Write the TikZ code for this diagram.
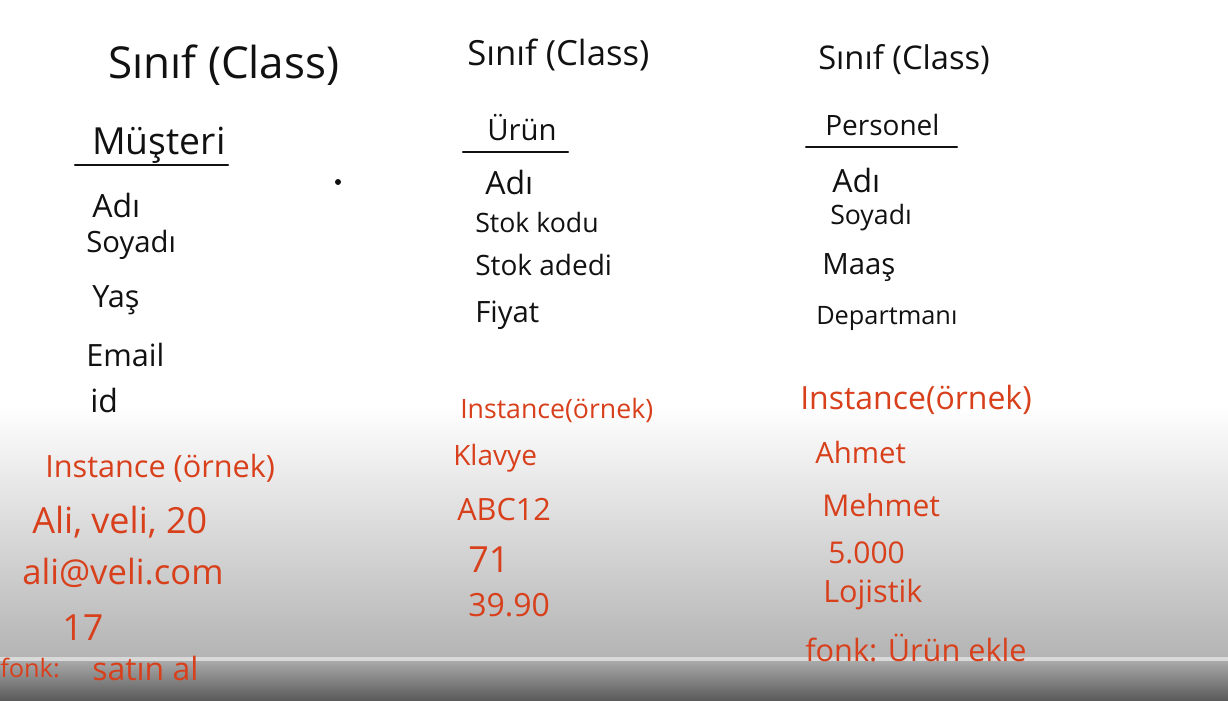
\documentclass[tikz,border=0pt]{standalone}
\usepackage{fontspec}
\setmainfont{Open Sans}
\usetikzlibrary{positioning}
\definecolor{ink}{HTML}{111111}
\definecolor{pen}{HTML}{D8401C}
\definecolor{fadegray}{HTML}{B4B4B4}
\definecolor{bartop}{HTML}{A9A9A9}
\definecolor{barbottom}{HTML}{5B5B5B}
\definecolor{barline}{HTML}{D9D9D9}
\newcommand\fsz[1]{\fontsize{#1}{#1}\selectfont}
\tikzset{
  board/.style={anchor=west, inner sep=0pt, text=ink},
  note/.style={anchor=west, inner sep=0pt, text=pen},
  rule/.style={draw=ink, line width=1.6pt, line cap=round},
}

\begin{document}
\begin{tikzpicture}[x=0.75pt,y=-0.75pt]
  % screen background with the player fade at the bottom
  \fill[white] (0,0) rectangle (1228,700);
  \shade[top color=white, bottom color=fadegray] (0,405) rectangle (1228,657);
  \shade[top color=bartop, bottom color=barbottom] (0,661) rectangle (1228,700);
  \fill[barline] (0,657) rectangle (1228,661);
  \useasboundingbox (0,0) rectangle (1228,700);

  % Musteri
  \node[board,font=\fsz{33}] (clsA) at (108,65) {Sınıf (Class)};
  \node[board,font=\fsz{28}] (musteri) at (92,145) {Müşteri};
  \draw[rule] (75,165) -- (228,165);
  \node[board,font=\fsz{24}] (adiA) at (92,205) {Adı};
  \node[board,font=\fsz{22}] (soyadiA) at (86,245) {Soyadı};
  \node[board,font=\fsz{23}] (yas) at (92,300) {Yaş};
  \node[board,font=\fsz{23}] (email) at (86,355) {Email};
  \node[board,font=\fsz{24}] (id) at (90,400) {id};
  \fill[ink] (338,182) circle (3);

  \node[note,font=\fsz{23}] (instA) at (45,468) {Instance (örnek)};
  \node[note,font=\fsz{27}] (aliveli) at (32,522) {Ali, veli, 20};
  \node[note,font=\fsz{26}] (mail) at (22,573) {ali@veli.com};
  \node[note,font=\fsz{27}] (yasval) at (62,628) {17};
  \node[note,font=\fsz{19}] (fonkA) at (0,668) {fonk:};
  \node[note,font=\fsz{24}] (satinal) at (92,668) {satın al};

  % Urun
  \node[board,font=\fsz{26}] (clsB) at (467,55) {Sınıf (Class)};
  \node[board,font=\fsz{22}] (urun) at (487,128) {Ürün};
  \draw[rule] (463,152) -- (568,152);
  \node[board,font=\fsz{24}] (adiB) at (485,182) {Adı};
  \node[board,font=\fsz{20}] (stokkodu) at (475,222) {Stok kodu};
  \node[board,font=\fsz{21}] (stokadedi) at (475,265) {Stok adedi};
  \node[board,font=\fsz{22}] (fiyat) at (475,315) {Fiyat};

  \node[note,font=\fsz{20}] (instB) at (460,410) {Instance(örnek)};
  \node[note,font=\fsz{21}] (klavye) at (453,458) {Klavye};
  \node[note,font=\fsz{23}] (abc) at (457,510) {ABC12};
  \node[note,font=\fsz{27}] (stok) at (468,560) {71};
  \node[note,font=\fsz{24}] (fiyatval) at (468,605) {39.90};

  % Personel
  \node[board,font=\fsz{24.5}] (clsC) at (818,60) {Sınıf (Class)};
  \node[board,font=\fsz{21}] (personel) at (825,125) {Personel};
  \draw[rule] (806,147) -- (957,147);
  \node[board,font=\fsz{24}] (adiC) at (832,180) {Adı};
  \node[board,font=\fsz{20}] (soyadiC) at (830,218) {Soyadı};
  \node[board,font=\fsz{22}] (maas) at (822,268) {Maaş};
  \node[board,font=\fsz{19}] (departman) at (816,318) {Departmanı};

  \node[note,font=\fsz{24}] (instC) at (800,400) {Instance(örnek)};
  \node[note,font=\fsz{22}] (ahmet) at (815,452) {Ahmet};
  \node[note,font=\fsz{22.5}] (mehmet) at (822,505) {Mehmet};
  \node[note,font=\fsz{22.5}] (maasval) at (828,553) {5.000};
  \node[note,font=\fsz{23}] (lojistik) at (823,595) {Lojistik};
  \node[note,font=\fsz{23}] (fonkC) at (805,648) {fonk: Ürün ekle};
\end{tikzpicture}
\end{document}
